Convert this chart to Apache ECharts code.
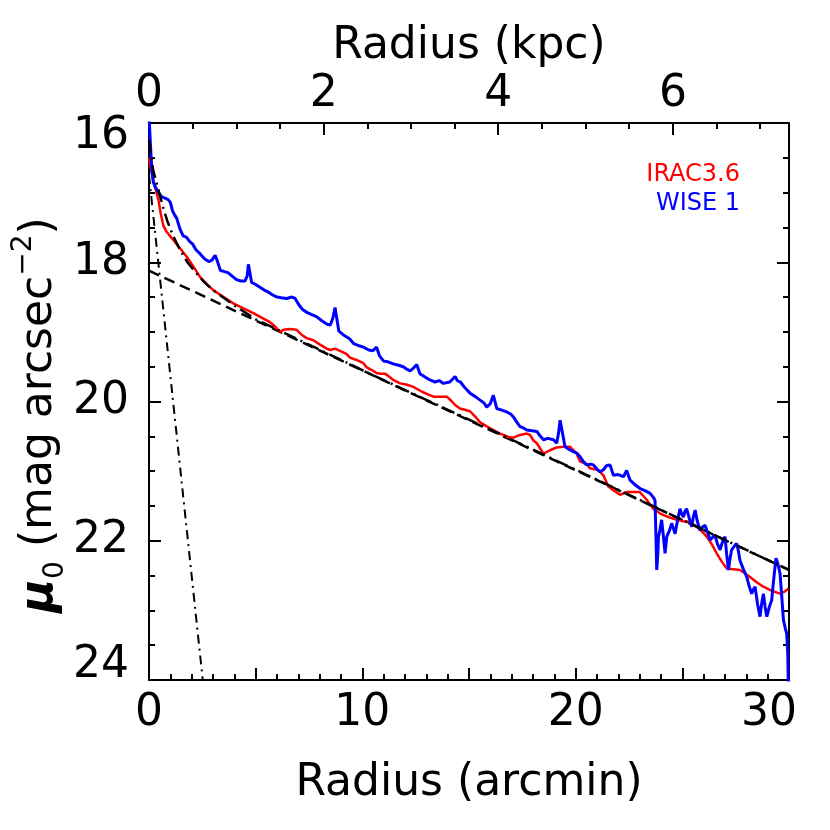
<!DOCTYPE html>
<html>
<head>
<meta charset="utf-8">
<script src="https://cdn.jsdelivr.net/npm/echarts@6/dist/echarts.min.js"></script>
<style>html,body{margin:0;padding:0;background:#fff}#c{width:830px;height:830px}</style>
</head>
<body>
<div id="c"></div>
<script>
// ---- data ----
const xTickLabels = [0, 10, 20, 30];          // arcmin
const topTickLabels = [0, 2, 4, 6];           // kpc
const yTickLabels = [16, 18, 20, 22, 24];     // mag arcsec^-2
const kpcAt30arcmin = 7.33;

const wise1 = [[0.0,15.9],[0.05,16.2],[0.1,16.5],[0.15,16.72],[0.2,16.85],[0.3,16.92],[0.45,17.0],[0.6,17.06],[0.75,17.08],[0.9,17.1],[1.0,17.14],[1.1,17.26],[1.2,17.32],[1.3,17.37],[1.45,17.52],[1.6,17.62],[1.75,17.64],[1.9,17.7],[2.05,17.74],[2.2,17.82],[2.4,17.88],[2.6,17.95],[2.8,17.99],[2.95,17.97],[3.1,17.9],[3.2,17.98],[3.35,18.12],[3.5,18.13],[3.7,18.15],[3.9,18.2],[4.1,18.25],[4.3,18.27],[4.5,18.27],[4.6,18.2],[4.66,18.03],[4.73,18.15],[4.81,18.29],[5.0,18.32],[5.2,18.36],[5.4,18.4],[5.6,18.43],[5.8,18.47],[6.0,18.5],[6.2,18.51],[6.45,18.52],[6.7,18.5],[6.85,18.52],[7.0,18.6],[7.2,18.68],[7.4,18.72],[7.6,18.75],[7.85,18.78],[8.1,18.84],[8.35,18.89],[8.5,18.9],[8.62,18.8],[8.72,18.65],[8.8,18.8],[8.9,18.99],[9.1,19.04],[9.4,19.1],[9.6,19.17],[9.85,19.2],[10.05,19.22],[10.3,19.26],[10.5,19.27],[10.67,19.22],[10.8,19.34],[11.0,19.42],[11.2,19.43],[11.45,19.46],[11.7,19.48],[11.92,19.5],[12.1,19.54],[12.24,19.56],[12.4,19.52],[12.55,19.47],[12.7,19.6],[12.9,19.64],[13.17,19.69],[13.4,19.72],[13.6,19.7],[13.8,19.74],[14.1,19.72],[14.35,19.64],[14.45,19.7],[14.6,19.72],[14.8,19.8],[15.05,19.88],[15.3,19.93],[15.52,19.98],[15.7,20.02],[15.83,20.08],[16.0,20.03],[16.14,19.91],[16.3,20.1],[16.5,20.12],[16.77,20.15],[16.95,20.18],[17.08,20.22],[17.25,20.3],[17.39,20.36],[17.55,20.38],[17.71,20.41],[17.95,20.42],[18.18,20.43],[18.35,20.5],[18.49,20.55],[18.7,20.53],[18.96,20.55],[19.11,20.6],[19.2,20.45],[19.27,20.27],[19.38,20.45],[19.5,20.65],[19.7,20.69],[19.89,20.72],[20.05,20.74],[20.2,20.79],[20.35,20.86],[20.52,20.91],[20.7,20.9],[20.83,20.91],[21.0,20.97],[21.14,21.01],[21.3,20.98],[21.45,20.92],[21.61,20.91],[21.77,21.06],[22.0,21.05],[22.24,21.08],[22.39,20.99],[22.55,21.13],[22.8,21.2],[23.02,21.25],[23.25,21.28],[23.49,21.32],[23.65,21.38],[23.72,21.42],[23.76,21.9],[23.8,22.42],[23.85,22.2],[23.88,21.94],[23.95,21.85],[24.03,21.7],[24.1,21.9],[24.19,22.18],[24.27,21.94],[24.4,21.85],[24.5,21.75],[24.58,21.82],[24.66,21.9],[24.78,21.7],[24.89,21.54],[24.97,21.62],[25.05,21.66],[25.12,21.58],[25.2,21.54],[25.3,21.65],[25.44,21.8],[25.52,21.65],[25.6,21.56],[25.7,21.72],[25.83,21.85],[25.95,21.8],[26.07,21.78],[26.2,21.9],[26.3,21.99],[26.42,21.95],[26.53,21.92],[26.65,22.05],[26.77,22.13],[26.9,22.0],[27.0,21.94],[27.08,22.2],[27.16,22.42],[27.24,22.25],[27.31,22.13],[27.43,22.08],[27.55,22.04],[27.63,22.15],[27.7,22.28],[27.85,22.4],[28.02,22.52],[28.13,22.65],[28.25,22.76],[28.33,22.7],[28.41,22.66],[28.52,22.9],[28.64,23.09],[28.72,22.9],[28.8,22.76],[28.88,22.95],[28.96,23.09],[29.08,22.95],[29.19,22.85],[29.3,22.5],[29.39,22.25],[29.48,22.33],[29.58,22.47],[29.66,22.8],[29.74,23.14],[29.82,23.25],[29.89,23.33],[29.94,23.6],[29.97,24.1]];

const irac36 = [[0,16.5],[0.1,16.68],[0.2,16.82],[0.3,16.94],[0.44,17.1],[0.55,17.3],[0.67,17.47],[0.8,17.55],[0.95,17.61],[1.14,17.68],[1.45,17.8],[1.77,17.92],[2.1,18.07],[2.39,18.21],[2.7,18.31],[3.01,18.4],[3.5,18.5],[3.95,18.59],[4.4,18.66],[4.89,18.73],[5.3,18.8],[5.67,18.86],[5.9,18.92],[6.14,19.0],[6.3,18.97],[6.6,18.96],[6.92,18.97],[7.15,19.04],[7.39,19.09],[7.7,19.12],[8.0,19.18],[8.33,19.24],[8.5,19.26],[8.72,19.24],[9.0,19.28],[9.27,19.32],[9.42,19.37],[9.7,19.4],[10.05,19.45],[10.2,19.51],[10.45,19.55],[10.67,19.59],[10.85,19.6],[11.06,19.6],[11.25,19.64],[11.45,19.69],[11.77,19.74],[12.1,19.76],[12.39,19.79],[12.8,19.86],[13.1,19.9],[13.33,19.93],[13.65,19.93],[13.96,19.93],[14.2,20.0],[14.35,20.05],[14.58,20.1],[15.05,20.14],[15.3,20.22],[15.52,20.3],[15.85,20.36],[16.14,20.41],[16.46,20.46],[16.61,20.48],[16.85,20.51],[17.08,20.52],[17.39,20.48],[17.71,20.46],[17.86,20.48],[18.02,20.56],[18.18,20.6],[18.49,20.75],[18.8,20.7],[19.11,20.66],[19.42,20.65],[19.74,20.65],[20.05,20.75],[20.2,20.86],[20.52,20.9],[20.67,20.96],[20.99,20.98],[21.14,21.01],[21.3,21.06],[21.53,21.22],[21.8,21.28],[22.08,21.34],[22.39,21.3],[22.7,21.3],[23.0,21.3],[23.3,21.4],[23.64,21.54],[23.96,21.61],[24.35,21.66],[24.74,21.7],[25.05,21.72],[25.36,21.73],[25.67,21.8],[25.9,21.86],[26.14,21.94],[26.4,22.06],[26.61,22.18],[26.85,22.3],[27.08,22.4],[27.4,22.41],[27.7,22.42],[27.95,22.47],[28.17,22.52],[28.5,22.6],[28.8,22.66],[29.2,22.72],[29.58,22.76],[29.8,22.73],[29.97,22.69]];

const totalModel = [[0,16.25],[0.1,16.5],[0.2,16.68],[0.3,16.8],[0.45,16.97],[0.65,17.2],[0.85,17.4],[1.1,17.6],[1.45,17.82],[1.8,18.0],[2.2,18.15],[2.6,18.29],[3.0,18.4],[3.5,18.51],[4.0,18.62],[5.0,18.82],[7,19.11],[10,19.55],[15,20.26],[20,20.98],[25,21.7],[30,22.42]];
const diskModel = [[0,18.12],[30,22.42]];
const bulgeModel = [[0,16.75],[2.52,24.0]];

// ---- chart ----
const FONT = 'DejaVu Sans';
const FS = 44;
const axisLineStyle = {color:'#000', width:2};
const labelRich = {
  n:{fontFamily:FONT, fontSize:FS, color:'#000'},
  down:{fontFamily:FONT, fontSize:FS, color:'#000', padding:[28,0,0,0]},
  up:{fontFamily:FONT, fontSize:FS, color:'#000', padding:[0,0,28,0]},
  left:{fontFamily:FONT, fontSize:FS, color:'#000', padding:[0,40,0,0]}
};
const chart = echarts.init(document.getElementById('c'), null, {renderer:'canvas'});

const option = {
  animation:false,
  backgroundColor:'#fff',
  grid:{left:149, right:41, top:123, bottom:150, containLabel:false},
  xAxis:[
    {type:'value', position:'bottom', min:0, max:30, interval:5,
     axisLine:{show:true, onZero:false, lineStyle:axisLineStyle},
     axisTick:{show:true, inside:true, length:12, lineStyle:axisLineStyle},
     minorTick:{show:true, splitNumber:5, length:6, lineStyle:axisLineStyle},
     splitLine:{show:false}, minorSplitLine:{show:false},
     axisLabel:{fontFamily:FONT, fontSize:FS, color:'#000', margin:12, rich:labelRich,
       formatter:v => {
         if (xTickLabels.indexOf(v) < 0) return '';
         return v === xTickLabels[xTickLabels.length-1] ? '{left|' + v + '}' : '{n|' + v + '}';
       }},
     name:'Radius (arcmin)', nameLocation:'middle', nameGap:82,
     nameTextStyle:{fontFamily:FONT, fontSize:FS, color:'#000'}},
    {type:'value', position:'top', min:0, max:kpcAt30arcmin, interval:0.5,
     axisLine:{show:true, onZero:false, lineStyle:axisLineStyle},
     axisTick:{show:true, inside:true, length:6, lineStyle:axisLineStyle},
     axisLabel:{show:false}, splitLine:{show:false}},
    {type:'value', position:'top', min:0, max:kpcAt30arcmin, interval:2,
     axisLine:{show:false, onZero:false},
     axisTick:{show:true, inside:true, length:12, lineStyle:axisLineStyle},
     splitLine:{show:false},
     axisLabel:{fontFamily:FONT, fontSize:FS, color:'#000', margin:6,
       formatter:v => topTickLabels.indexOf(v) >= 0 ? String(v) : ''},
     name:'Radius (kpc)', nameLocation:'middle', nameGap:52,
     nameTextStyle:{fontFamily:FONT, fontSize:FS, color:'#000'}}
  ],
  yAxis:[
    {type:'value', position:'left', inverse:true, min:16, max:24, interval:2,
     axisLine:{show:true, onZero:false, lineStyle:axisLineStyle},
     axisTick:{show:true, inside:true, length:12, lineStyle:axisLineStyle},
     minorTick:{show:true, splitNumber:4, length:6, lineStyle:axisLineStyle},
     splitLine:{show:false}, minorSplitLine:{show:false},
     axisLabel:{fontFamily:FONT, fontSize:FS, color:'#000', margin:20, rich:labelRich,
       formatter:v => {
         if (yTickLabels.indexOf(v) < 0) return '';
         if (v === yTickLabels[0]) return '{down|' + v + '}';
         if (v === yTickLabels[yTickLabels.length-1]) return '{up|' + v + '}';
         return '{n|' + v + '}';
       }}},
    {type:'value', position:'right', inverse:true, min:16, max:24, interval:2,
     axisLine:{show:true, onZero:false, lineStyle:axisLineStyle},
     axisTick:{show:true, inside:true, length:12, lineStyle:axisLineStyle},
     minorTick:{show:true, splitNumber:4, length:6, lineStyle:axisLineStyle},
     splitLine:{show:false}, axisLabel:{show:false}}
  ],
  series:[
    {name:'bulge', type:'line', data:bulgeModel, showSymbol:false, symbol:'none',
     lineStyle:{color:'#000', width:2, type:[9,5,2,5]}, z:3},
    {name:'disk', type:'line', data:diskModel, showSymbol:false, symbol:'none',
     lineStyle:{color:'#000', width:2.5, type:[11,6]}, z:3},
    {name:'IRAC3.6', type:'line', data:irac36, showSymbol:false, symbol:'none',
     lineStyle:{color:'#ff0000', width:2.5}, z:4},
    {name:'WISE 1', type:'line', data:wise1, showSymbol:false, symbol:'none',
     lineStyle:{color:'#0000ff', width:3}, z:5},
    {name:'total', type:'line', data:totalModel, showSymbol:false, symbol:'none',
     lineStyle:{color:'#000', width:2.5, type:[13,5,2,5]}, z:6}
  ],
  graphic:[
    {type:'text', right:90, top:163, z:10,
     style:{text:'IRAC3.6', fill:'#ff0000', font:'24px "DejaVu Sans"', textAlign:'right'}},
    {type:'text', right:90, top:192, z:10,
     style:{text:'WISE 1', fill:'#0000ff', font:'24px "DejaVu Sans"', textAlign:'right'}},
    {type:'text', x:40, y:415, rotation:Math.PI/2, z:10,
     style:{
       text:'{mu|μ}{sub|0} (mag arcsec{sup|−2})',
       align:'center', verticalAlign:'middle',
       fill:'#000', fontFamily:FONT, fontSize:FS,
       rich:{
         mu:{fontFamily:FONT, fontSize:46, fontWeight:'bold', fontStyle:'italic', fill:'#000', lineHeight:60},
         sub:{fontFamily:FONT, fontSize:28, fill:'#000', verticalAlign:'bottom', lineHeight:60, padding:[16,0,0,0]},
         sup:{fontFamily:FONT, fontSize:28, fill:'#000', verticalAlign:'top', lineHeight:60, padding:[0,0,18,0]}
       }
     }}
  ]
};
chart.setOption(option);
</script>
</body>
</html>
